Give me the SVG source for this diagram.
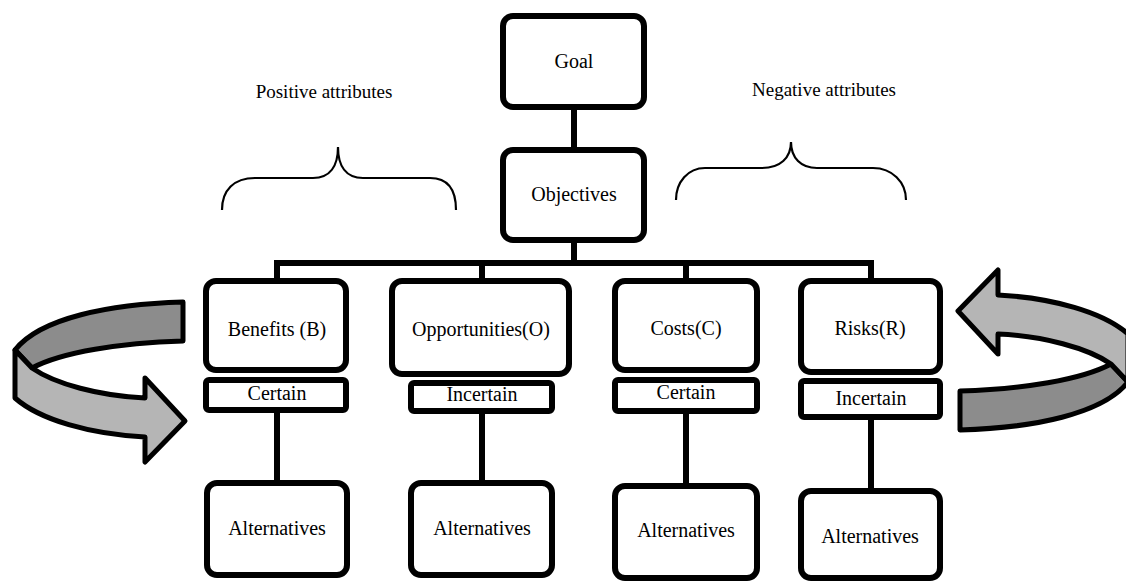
<svg xmlns="http://www.w3.org/2000/svg" xmlns:xlink="http://www.w3.org/1999/xlink" width="1126" height="581" viewBox="0 0 1126 581">
<style>
.box{fill:#fff;stroke:#000;stroke-width:6}
.sub{fill:#fff;stroke:#000;stroke-width:6}
.t{font-size:20px;fill:#000;text-anchor:middle}
.lbl{font-size:19px;fill:#000;text-anchor:middle}
.conn{stroke:#000;stroke-width:6;fill:none;stroke-linecap:square}
.brace{stroke:#000;stroke-width:2.2;fill:none}
.dark{fill:#8c8c8c;stroke:#000;stroke-width:5;stroke-linejoin:round}
.light{fill:#b5b5b5;stroke:#000;stroke-width:5;stroke-linejoin:round}
</style>
<defs>
<g id="cycArrow">
<path class="dark" d="M183,302 L183,341 C120,343 62,352 32,368 L15,350 C40,318 110,304 183,302 Z"/>
<path class="light" d="M15,350 L32,368 C55,384 100,396 145,398 L145,378 L185,421 L145,462 L145,437 C90,434 40,420 15,398 Z"/>
</g>
</defs>
<rect width="1126" height="581" fill="#fff"/>
<g id="connectors">
<line class="conn" x1="574" y1="110" x2="574" y2="147"/>
<line class="conn" x1="574" y1="243" x2="574" y2="263"/>
<line class="conn" x1="277" y1="263" x2="871" y2="263"/>
<line class="conn" x1="277" y1="263" x2="277" y2="278"/>
<line class="conn" x1="482" y1="263" x2="482" y2="278"/>
<line class="conn" x1="686" y1="263" x2="686" y2="278"/>
<line class="conn" x1="871" y1="263" x2="871" y2="278"/>
<line class="conn" x1="277" y1="413" x2="277" y2="480"/>
<line class="conn" x1="482" y1="414" x2="482" y2="480"/>
<line class="conn" x1="686" y1="414" x2="686" y2="483"/>
<line class="conn" x1="871" y1="420" x2="871" y2="488"/>
</g>
<g id="arrow-left"><use xlink:href="#cycArrow"/></g>
<g id="arrow-right"><use xlink:href="#cycArrow" transform="rotate(180 571.5 366)"/></g>
<g font-family="'Liberation Serif', 'Times New Roman', 'DejaVu Serif', serif">
<g id="positive-label">
<text class="lbl" x="324" y="98">Positive attributes</text>
<path class="brace" d="M222,210 C222,190 234,178 255,178 L313,178 C330,178 338,166 338,147 C338,166 346,178 363,178 L430,178 C448,178 456,190 456,210"/>
</g>
<g id="negative-label">
<text class="lbl" x="824" y="96">Negative attributes</text>
<path class="brace" d="M676,200 C676,182 688,168 705,168 L762,168 C780,168 791,158 791,142 C791,158 801,168 817,168 L873,168 C892,168 906,182 906,200"/>
</g>
<g id="goal"><rect class="box" x="503" y="16" width="141" height="91" rx="10"/><text class="t" x="574" y="68">Goal</text></g>
<g id="objectives"><rect class="box" x="503" y="150" width="141" height="90" rx="10"/><text class="t" x="574" y="201">Objectives</text></g>
<g id="benefits"><rect class="box" x="206" y="281" width="140" height="89" rx="10"/><text class="t" x="277" y="336">Benefits (B)</text></g>
<g id="benefits-certain"><rect class="sub" x="206" y="380" width="140" height="30" rx="3"/><text class="t" x="277" y="400">Certain</text></g>
<g id="opportunities"><rect class="box" x="392" y="281" width="177" height="93" rx="10"/><text class="t" x="481" y="336">Opportunities(O)</text></g>
<g id="opportunities-incertain"><rect class="sub" x="411" y="383" width="141" height="28" rx="3"/><text class="t" x="482" y="401">Incertain</text></g>
<g id="costs"><rect class="box" x="615" y="281" width="142" height="89" rx="10"/><text class="t" x="686" y="335">Costs(C)</text></g>
<g id="costs-certain"><rect class="sub" x="615" y="380" width="142" height="31" rx="3"/><text class="t" x="686" y="399">Certain</text></g>
<g id="risks"><rect class="box" x="801" y="281" width="139" height="91" rx="10"/><text class="t" x="870" y="335">Risks(R)</text></g>
<g id="risks-incertain"><rect class="sub" x="801" y="381" width="139" height="36" rx="3"/><text class="t" x="871" y="405">Incertain</text></g>
<g id="alt-b"><rect class="box" x="207" y="483" width="140" height="92" rx="10"/><text class="t" x="277" y="535">Alternatives</text></g>
<g id="alt-o"><rect class="box" x="411" y="483" width="141" height="92" rx="10"/><text class="t" x="482" y="535">Alternatives</text></g>
<g id="alt-c"><rect class="box" x="615" y="486" width="142" height="92" rx="10"/><text class="t" x="686" y="537">Alternatives</text></g>
<g id="alt-r"><rect class="box" x="801" y="491" width="139" height="87" rx="10"/><text class="t" x="870" y="543">Alternatives</text></g>
</g>
</svg>
